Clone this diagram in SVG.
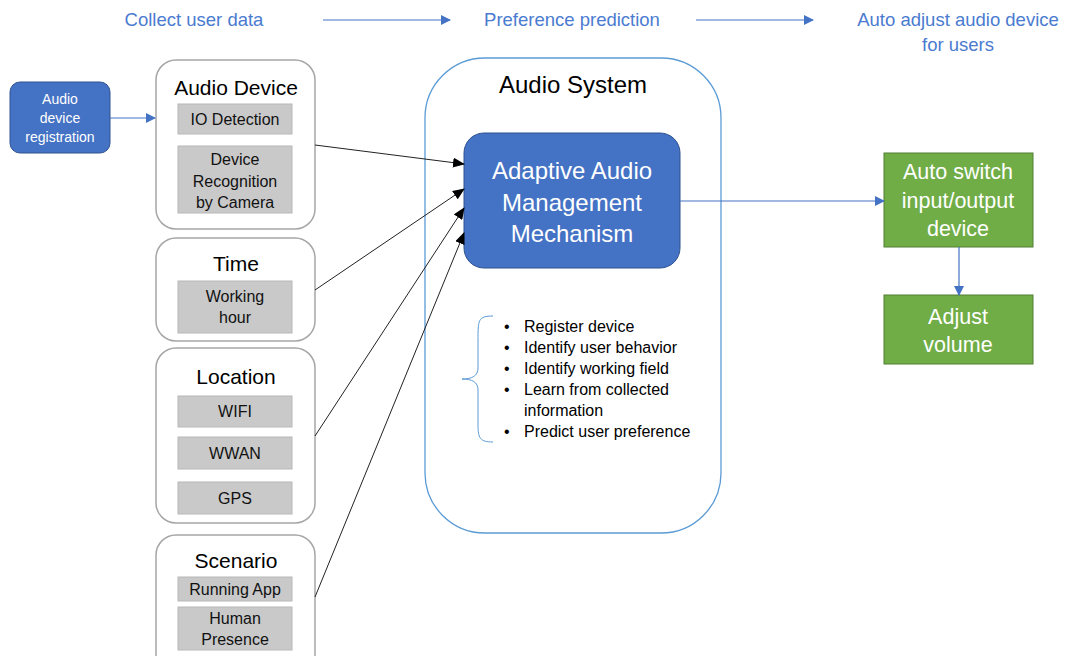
<svg xmlns="http://www.w3.org/2000/svg" width="1065" height="656" viewBox="0 0 1065 656">
<defs>
<style>
text{font-family:"Liberation Sans",Arial,sans-serif;text-anchor:middle;}
.top{fill:#4A7BD0;font-size:18.5px;}
.cont{fill:#fff;stroke:#A6A6A6;stroke-width:1.5;}
.title{fill:#000;font-size:21px;}
.systitle{fill:#000;font-size:24px;}
.sub{fill:#C9C9C9;stroke:#B8B8B8;stroke-width:1;}
.subt{fill:#111;font-size:16px;}
.blue{fill:#4472C4;stroke:#2F528F;stroke-width:1;}
.green{fill:#70AD47;stroke:#507E32;stroke-width:1;}
.wt{fill:#fff;}
.bl{stroke:#4472C4;stroke-width:1.2;fill:none;}
.bk{stroke:#222;stroke-width:1;fill:none;}
.bul{fill:#000;font-size:16px;text-anchor:start;}
</style>
<marker id="ab" markerWidth="10" markerHeight="10" refX="9" refY="5" orient="auto" markerUnits="userSpaceOnUse"><path d="M0,0 L10,5 L0,10 z" fill="#4472C4"/></marker>
<marker id="ak" markerWidth="12" markerHeight="10" refX="11" refY="5" orient="auto" markerUnits="userSpaceOnUse"><path d="M0,0 L12,5 L0,10 z" fill="#000"/></marker>
</defs>
<rect width="1065" height="656" fill="#fff"/>

<g id="header">
<text class="top" x="194" y="26">Collect user data</text>
<text class="top" x="572" y="26">Preference prediction</text>
<text class="top" x="958" y="26">Auto adjust audio device</text>
<text class="top" x="958" y="51">for users</text>
</g>

<g id="registration">
<rect class="blue" x="10" y="82" width="100" height="71" rx="10"/>
<text class="wt" x="60" y="104" font-size="14">Audio</text>
<text class="wt" x="60" y="123" font-size="14">device</text>
<text class="wt" x="60" y="142" font-size="14">registration</text>
</g>

<g id="audio-device">
<rect class="cont" x="156" y="60" width="159" height="169" rx="20"/>
<text class="title" x="236" y="95">Audio Device</text>
<rect class="sub" x="178" y="104" width="114" height="30"/>
<text class="subt" x="235" y="125">IO Detection</text>
<rect class="sub" x="178" y="146" width="114" height="67"/>
<text class="subt" x="235" y="165">Device</text>
<text class="subt" x="235" y="187">Recognition</text>
<text class="subt" x="235" y="208">by Camera</text>
</g>

<g id="time">
<rect class="cont" x="156" y="238" width="159" height="103" rx="20"/>
<text class="title" x="236" y="271">Time</text>
<rect class="sub" x="178" y="281" width="114" height="52"/>
<text class="subt" x="235" y="302">Working</text>
<text class="subt" x="235" y="323">hour</text>
</g>

<g id="location">
<rect class="cont" x="156" y="348" width="159" height="175" rx="20"/>
<text class="title" x="236" y="384">Location</text>
<rect class="sub" x="178" y="396" width="114" height="31"/>
<text class="subt" x="235" y="417">WIFI</text>
<rect class="sub" x="178" y="437" width="114" height="32"/>
<text class="subt" x="235" y="459">WWAN</text>
<rect class="sub" x="178" y="482" width="114" height="32"/>
<text class="subt" x="235" y="504">GPS</text>
</g>

<g id="scenario">
<rect class="cont" x="156" y="535" width="159" height="140" rx="20"/>
<text class="title" x="236" y="568">Scenario</text>
<rect class="sub" x="178" y="577" width="114" height="24"/>
<text class="subt" x="235" y="595">Running App</text>
<rect class="sub" x="178" y="607" width="114" height="43"/>
<text class="subt" x="235" y="624">Human</text>
<text class="subt" x="235" y="645">Presence</text>
</g>

<g id="audio-system">
<rect x="425" y="58" width="296" height="475" rx="60" fill="none" stroke="#5B9BD5" stroke-width="1.3"/>
<text class="systitle" x="573" y="93">Audio System</text>
</g>

<g id="adaptive">
<rect class="blue" x="464" y="133" width="216" height="135" rx="20"/>
<text class="wt" x="572" y="179" font-size="24">Adaptive Audio</text>
<text class="wt" x="572" y="211" font-size="24">Management</text>
<text class="wt" x="572" y="242" font-size="24">Mechanism</text>
</g>

<g id="functions">
<path d="M493,316 C478,316 478,320 478,340 L478,368 C478,376 472,379 462,379 C472,379 478,382 478,390 L478,425 C478,438 480,442 493,442" fill="none" stroke="#5B9BD5" stroke-width="1"/>
<text class="bul" x="504" y="332">•</text><text class="bul" x="524" y="332">Register device</text>
<text class="bul" x="504" y="353">•</text><text class="bul" x="524" y="353">Identify user behavior</text>
<text class="bul" x="504" y="374">•</text><text class="bul" x="524" y="374">Identify working field</text>
<text class="bul" x="504" y="395">•</text><text class="bul" x="524" y="395">Learn from collected</text>
<text class="bul" x="524" y="416">information</text>
<text class="bul" x="504" y="437">•</text><text class="bul" x="524" y="437">Predict user preference</text>
</g>

<g id="auto-switch">
<rect class="green" x="884" y="153" width="149" height="94"/>
<text class="wt" x="958" y="179" font-size="21.5">Auto switch</text>
<text class="wt" x="958" y="208" font-size="21.5">input/output</text>
<text class="wt" x="958" y="236" font-size="21.5">device</text>
</g>

<g id="adjust-volume">
<rect class="green" x="884" y="295" width="149" height="69"/>
<text class="wt" x="958" y="324" font-size="21.5">Adjust</text>
<text class="wt" x="958" y="352" font-size="21.5">volume</text>
</g>

<g id="connectors">
<line class="bl" x1="323" y1="20" x2="450" y2="20" marker-end="url(#ab)"/>
<line class="bl" x1="696" y1="20" x2="813" y2="20" marker-end="url(#ab)"/>
<line class="bl" x1="110" y1="118" x2="155" y2="118" marker-end="url(#ab)"/>
<line class="bk" x1="315" y1="145" x2="464" y2="164" marker-end="url(#ak)"/>
<line class="bk" x1="315" y1="290" x2="464" y2="189" marker-end="url(#ak)"/>
<line class="bk" x1="315" y1="436" x2="464" y2="208" marker-end="url(#ak)"/>
<line class="bk" x1="315" y1="597" x2="464" y2="233" marker-end="url(#ak)"/>
<line class="bl" x1="680" y1="201" x2="884" y2="201" marker-end="url(#ab)"/>
<line class="bl" x1="959" y1="247" x2="959" y2="295" marker-end="url(#ab)"/>
</g>
</svg>
